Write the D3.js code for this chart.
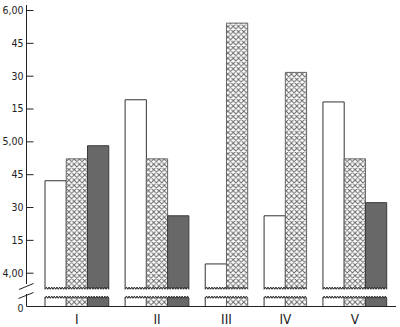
<!DOCTYPE html>
<html><head><meta charset="utf-8">
<script src="https://cdn.jsdelivr.net/npm/d3@7"></script>
<style>
html,body{margin:0;padding:0;background:#fff;}
svg{display:block;}
text{font-family:"DejaVu Sans Condensed","DejaVu Sans",sans-serif;}
</style></head>
<body><svg id="c" width="400" height="327"></svg>
<script>
// ---- data (times in minutes after midnight) ----
const categories = ["I", "II", "III", "IV", "V"];
const seriesWhite = [282, 319, 244, 266, 318];
const seriesHatched = [292, 292, 354, 331.5, 292];
const seriesDark = [298, 266, null, null, 272];
const tickValues = [240, 255, 270, 285, 300, 315, 330, 345, 360];
const tickLabels = ["4,00", "15", "30", "45", "5,00", "15", "30", "45", "6,00"];
const zeroLabel = "0";

const svg = d3.select("#c");
const axisX = 26.5;
const baseY = 306.5;
const breakTop = 288.5;   // bottom of upper bar part
const breakBot = 297.5;   // top of lower stub

const y = d3.scaleLinear().domain([240, 360]).range([272.7, 10]);

// pattern
const defs = svg.append("defs");
const P = 5.3;
const pat = defs.append("pattern").attr("id", "hatch").attr("patternUnits", "userSpaceOnUse")
  .attr("width", P).attr("height", P).attr("x", 0).attr("y", 0);
pat.append("rect").attr("width", P).attr("height", P).attr("fill", "#fff");
pat.append("path").attr("d", `M0,0L${P},${P}M${P},0L0,${P}M-1,${P-1}L1,${P+1}M${P-1},-1L${P+1},1`)
  .attr("stroke", "#666").attr("stroke-width", 1).attr("fill", "none");

// build bar list with group layout
const styles = [
  {key: "white", fill: "#fff", stroke: "#333"},
  {key: "hatched", fill: "url(#hatch)", stroke: "#666"},
  {key: "dark", fill: "#686868", stroke: "#3a3a3a"}
];
const seriesVals = [seriesWhite, seriesHatched, seriesDark];
const gapUnit = 0.77;
let bars = [], groups = [], u = 0;
categories.forEach((c, i) => {
  if (i > 0) u += gapUnit;
  const start = u;
  seriesVals.forEach((s, k) => {
    if (s[i] != null) { bars.push({cat: c, k, v: s[i], u0: u, u1: u + 1}); u += 1; }
  });
  groups.push({cat: c, u0: start, u1: u});
});
const x = d3.scaleLinear().domain([0, u]).range([45, 386.7]);

function zig(x0, x1, yy) {
  const n = Math.max(2, 2 * Math.round(Math.abs(x1 - x0) / 2.8));
  const pts = [];
  for (let j = 0; j <= n; j++) {
    const xx = x0 + (x1 - x0) * j / n;
    pts.push([xx, yy + (j % 2 ? -1.3 : 0.7)]);
  }
  return pts;
}

const g = svg.append("g");
bars.forEach(b => {
  const x0 = x(b.u0), x1 = x(b.u1), st = styles[b.k];
  const top = y(b.v);
  let p = d3.path();
  p.moveTo(x0, breakTop); p.lineTo(x0, top); p.lineTo(x1, top); p.lineTo(x1, breakTop);
  zig(x1, x0, breakTop).forEach(q => p.lineTo(q[0], q[1]));
  p.closePath();
  g.append("path").attr("d", p.toString()).attr("fill", st.fill).attr("stroke", st.stroke).attr("stroke-width", 1);
  let q = d3.path();
  q.moveTo(x0, baseY); q.lineTo(x0, breakBot);
  zig(x0, x1, breakBot).forEach(pt => q.lineTo(pt[0], pt[1]));
  q.lineTo(x1, baseY);
  g.append("path").attr("d", q.toString()).attr("fill", st.fill).attr("stroke", st.stroke).attr("stroke-width", 1);
});
bars.forEach(b => {
  const x0 = x(b.u0), x1 = x(b.u1);
  g.append("polyline").attr("points", zig(x0, x1, breakTop).map(d => d.join(",")).join(" "))
    .attr("fill", "none").attr("stroke", "#333").attr("stroke-width", 0.8);
  g.append("polyline").attr("points", zig(x0, x1, breakBot).map(d => d.join(",")).join(" "))
    .attr("fill", "none").attr("stroke", "#333").attr("stroke-width", 0.8);
});

// y axis
const ax = svg.append("g").attr("stroke", "#222").attr("stroke-width", 1);
ax.append("line").attr("x1", axisX).attr("x2", axisX).attr("y1", 5).attr("y2", 284);
ax.append("line").attr("x1", axisX).attr("x2", axisX).attr("y1", 294).attr("y2", baseY);
ax.append("line").attr("x1", 19).attr("y1", 289.5).attr("x2", 33.5).attr("y2", 283.5);
ax.append("line").attr("x1", 18.5).attr("y1", 298.5).attr("x2", 33.5).attr("y2", 292.5);
ax.append("line").attr("x1", axisX).attr("x2", 396).attr("y1", baseY).attr("y2", baseY);

const yAxis = d3.axisRight(y).tickValues(tickValues).tickSize(7)
  .tickFormat((d, i) => tickLabels[i]);
const ya = svg.append("g").attr("transform", `translate(${axisX},0)`).call(yAxis);
ya.select(".domain").remove();
ya.selectAll(".tick line").attr("stroke", "#222");
ya.selectAll(".tick text").attr("x", -3).attr("text-anchor", "end")
  .attr("font-size", 10.5).attr("fill", "#222");
svg.append("text").attr("x", 23.5).attr("y", baseY + 1.5).attr("dy", "0.35em")
  .attr("text-anchor", "end").attr("font-size", 10.5).attr("fill", "#222").text(zeroLabel);

// category labels
svg.selectAll(".cat").data(groups).join("text").attr("class", "cat")
  .attr("x", d => x((d.u0 + d.u1) / 2)).attr("y", 324)
  .attr("text-anchor", "middle").attr("font-size", 13.5)
  .attr("fill", "#222").text(d => d.cat);
</script></body></html>
